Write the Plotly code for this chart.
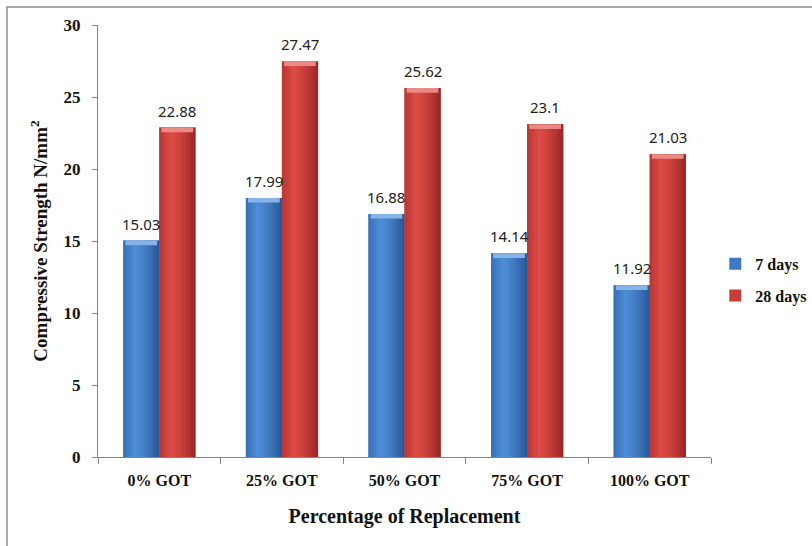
import plotly.graph_objects as go

# Compressive strength results by replacement level
categories = ["0% GOT", "25% GOT", "50% GOT", "75% GOT", "100% GOT"]
days_7 = [15.03, 17.99, 16.88, 14.14, 11.92]
days_28 = [22.88, 27.47, 25.62, 23.1, 21.03]
y_ticks = [0, 5, 10, 15, 20, 25, 30]

SERIF = "Liberation Serif, Times New Roman, serif"
BAR_W = 0.294
N_STRIPS = 14


def mix(c1, c2, t):
    return "rgb(%d,%d,%d)" % tuple(round(a + (b - a) * t) for a, b in zip(c1, c2))


def shade_profile(t):
    # cylinder-like lighting: dark edges, highlight left of centre
    peak = 0.32
    if t <= peak:
        return 0.45 + 0.55 * (t / peak)
    return 1.0 - 1.0 * ((t - peak) / (1 - peak)) ** 1.4


series = [
    dict(name="7 days", values=days_7, offset=-BAR_W,
         dark=(38, 84, 148), light=(78, 142, 216), mid="#3d78c2", cap="#86b4e6"),
    dict(name="28 days", values=days_28, offset=0.0,
         dark=(150, 36, 36), light=(222, 76, 70), mid="#c63d3a", cap="#ea8a84"),
]

fig = go.Figure()

for s in series:
    # base bar carries the legend entry
    fig.add_trace(go.Bar(
        x=categories, y=s["values"], name=s["name"],
        offset=s["offset"], width=BAR_W,
        marker=dict(color=s["mid"], line=dict(width=0)),
        legendgroup=s["name"],
    ))
    # shaded vertical strips
    sw = BAR_W / N_STRIPS
    for k in range(N_STRIPS):
        t = (k + 0.5) / N_STRIPS
        col = mix(s["dark"], s["light"], shade_profile(t))
        fig.add_trace(go.Bar(
            x=categories, y=s["values"],
            offset=s["offset"] + k * sw, width=sw * 1.08,
            marker=dict(color=col, line=dict(width=0)),
            showlegend=False, hoverinfo="skip",
        ))
    # light bevel at the top of each bar
    cap_h = 0.32
    fig.add_trace(go.Bar(
        x=categories, y=[cap_h] * len(categories),
        base=[v - cap_h for v in s["values"]],
        offset=s["offset"] + BAR_W * 0.06, width=BAR_W * 0.88,
        marker=dict(color=s["cap"], line=dict(width=0)),
        showlegend=False, hoverinfo="skip",
    ))

# value labels above the bars
annotations = []
for s in series:
    for i, v in enumerate(s["values"]):
        annotations.append(dict(
            x=i + s["offset"] + BAR_W / 2, y=v, xref="x", yref="y",
            text=f"{v:g}", showarrow=False, yanchor="bottom", yshift=5,
            font=dict(family="Noto Sans, Open Sans, sans-serif", size=15, color="#222222"),
        ))

fig.update_layout(
    width=812, height=546,
    margin=dict(l=98, r=101, t=25, b=89, autoexpand=False),
    paper_bgcolor="white", plot_bgcolor="white",
    barmode="overlay",
    annotations=annotations,
    legend=dict(
        x=1.007, y=0.41, xanchor="left", yanchor="middle",
        font=dict(family=SERIF, size=16, color="#111111", weight="bold"),
        tracegroupgap=8, traceorder="grouped",
        bgcolor="rgba(0,0,0,0)",
    ),
    shapes=[dict(
        type="rect", xref="paper", yref="paper",
        x0=-0.1485, x1=1.5, y0=-0.4, y1=1.0417,
        line=dict(color="#8c8c8c", width=1.5), fillcolor="rgba(0,0,0,0)", layer="below",
    )],
    showlegend=True,
)

fig.update_xaxes(
    type="category", categoryorder="array", categoryarray=categories,
    showline=True, linecolor="#868686", linewidth=1,
    ticks="outside", tickson="boundaries", ticklen=6, tickcolor="#868686",
    tickfont=dict(family=SERIF, size=16, color="#111111", weight="bold"),
    ticklabelstandoff=9,
    title=dict(text="Percentage of Replacement", standoff=20,
               font=dict(family=SERIF, size=20, color="#111111", weight="bold")),
    showgrid=False, range=[-0.5, 4.5],
)

fig.update_yaxes(
    range=[0, 30], tickvals=y_ticks,
    showline=True, linecolor="#868686", linewidth=1,
    ticks="outside", ticklen=5, tickcolor="#868686",
    tickfont=dict(family=SERIF, size=17, color="#111111", weight="bold"),
    ticklabelstandoff=8,
    title=dict(text="Compressive Strength N/mm<sup>2</sup>", standoff=10,
               font=dict(family=SERIF, size=19, color="#111111", weight="bold")),
    showgrid=False, zeroline=False,
)

fig.write_html("out.html")
